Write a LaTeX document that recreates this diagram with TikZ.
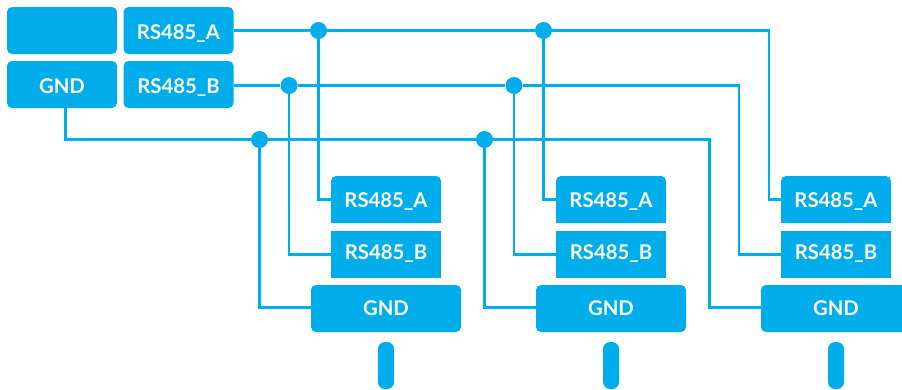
\documentclass[tikz,border=0pt]{standalone}
\usepackage{fontspec}
\setmainfont{Lato}
\usepackage{tikz}
\definecolor{busblue}{HTML}{00ADEB}
\tikzset{
    busbox/.style={rectangle, fill=busblue, text=white, inner sep=0pt,
    	minimum height=47pt, text depth=0pt,
    	font=\fontsize{20.3}{22}\selectfont\bfseries},
    mainbox/.style={busbox, rounded corners=5pt, minimum width=110pt, text height=17.5pt},
    roundbox/.style={busbox, rounded corners=5pt, minimum width=110pt, text height=15.5pt},
    sharpbox/.style={busbox, minimum width=110pt, text height=10pt},
    gndbox/.style={busbox, rounded corners=5pt, minimum width=150pt, text height=13pt},
    pin/.style={rectangle, fill=busblue, rounded corners=7pt, inner sep=0pt,
    	minimum width=16pt, minimum height=47pt},
    tap/.style={circle, fill=busblue, inner sep=0pt, minimum size=17pt},
    wire/.style={draw=busblue, line width=2.4pt}
}
\pgfdeclarelayer{background}
\pgfsetlayers{background,main}

\begin{document}
\begin{tikzpicture}[x=1pt, y=-1pt]
  \path [use as bounding box, clip] (0,0) rectangle (902,389);

  \node (mblank) [mainbox] at (62, 30.5) {};
  \node (mgnd) [mainbox] at (62, 84.5) {GND};
  \node (ma) [mainbox] at (178.5, 30.5) {RS485\_A};
  \node (mb) [mainbox] at (178.5, 84.5) {RS485\_B};

  \node (a1) [roundbox] at (386, 199.5) {RS485\_A};
  \node (b1) [sharpbox] at (386, 254.5) {RS485\_B};
  \node (g1) [gndbox] at (386, 308.5) {GND};
  \node (p1) [pin] at (386, 365.5) {};

  \node (a2) [roundbox] at (611, 199.5) {RS485\_A};
  \node (b2) [sharpbox] at (611, 254.5) {RS485\_B};
  \node (g2) [gndbox] at (611, 308.5) {GND};
  \node (p2) [pin] at (611, 365.5) {};

  \node (a3) [roundbox] at (836, 199.5) {RS485\_A};
  \node (b3) [sharpbox] at (836, 254.5) {RS485\_B};
  \node (g3) [gndbox] at (836, 308.5) {GND};
  \node (p3) [pin] at (836, 365.5) {};

  \node (ta1) [tap] at (318.5, 30.5) {};
  \node (ta2) [tap] at (543.5, 30.5) {};
  \node (tb1) [tap] at (289, 85.5) {};
  \node (tb2) [tap] at (514, 85.5) {};
  \node (tg1) [tap] at (259.5, 139.5) {};
  \node (tg2) [tap] at (484.5, 139.5) {};

  \coordinate (ca) at (769, 30.5);
  \coordinate (cb) at (739, 85.5);
  \coordinate (cg) at (709.5, 139.5);
  \coordinate (cm) at (65.5, 139.5);

  \begin{pgfonlayer}{background}
    \fill [busblue] (a1.west) rectangle (a1.south east);
    \fill [busblue] (a2.west) rectangle (a2.south east);
    \fill [busblue] (a3.west) rectangle (a3.south east);
    \draw [wire] (ma.east) -- (ta1) -- (ta2) -- (ca) |- (a3.west);
    \draw [wire] (mb.east |- tb1) -- (tb1) -- (tb2) -- (cb) |- (b3.west);
    \draw [wire] (mgnd.south -| cm) -- (cm) -- (tg1) -- (tg2) -- (cg) |- ([yshift=1pt]g3.west);
    \draw [wire] (ta1.south) |- (a1.west);
    \draw [wire] (ta2.south) |- (a2.west);
    \draw [wire] (tb1.south) |- (b1.west);
    \draw [wire] (tb2.south) |- (b2.west);
    \draw [wire] (tg1.south) |- ([yshift=1pt]g1.west);
    \draw [wire] (tg2.south) |- ([yshift=1pt]g2.west);
  \end{pgfonlayer}
\end{tikzpicture}
\end{document}
